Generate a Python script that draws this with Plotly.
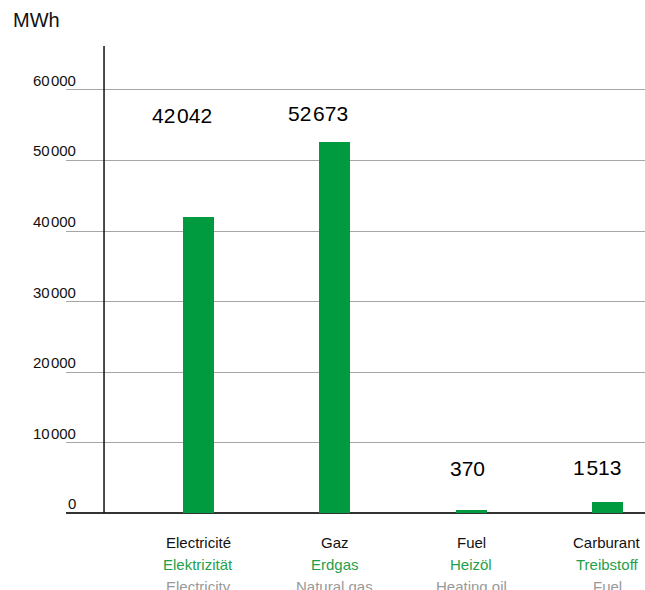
import plotly.graph_objects as go

categories_fr = ["Electricité", "Gaz", "Fuel", "Carburant"]
categories_de = ["Elektrizität", "Erdgas", "Heizöl", "Treibstoff"]
categories_en = ["Electricity", "Natural gas", "Heating oil", "Fuel"]
values = [42042, 52673, 370, 1513]
value_labels = ["42\u200a042", "52\u200a673", "370", "1\u200a513"]
label_y = [56400, 56700, 6300, 6400]
y_ticks = [0, 10000, 20000, 30000, 40000, 50000, 60000]
y_tick_labels = ["0", "10\u200a000", "20\u200a000", "30\u200a000", "40\u200a000", "50\u200a000", "60\u200a000"]

GREEN = "#009b3e"
FONT = "Liberation Sans, Arial, Helvetica, sans-serif"
xs = list(range(len(values)))
bar_w = 0.227

fig = go.Figure()
fig.add_trace(go.Bar(x=xs, y=values, width=bar_w, marker=dict(color=GREEN, line=dict(width=0)),
                     hoverinfo="skip"))

annotations = []
for i, (lab, yv) in enumerate(zip(value_labels, label_y)):
    annotations.append(dict(x=xs[i] + bar_w / 2, y=yv, xref="x", yref="y", text=lab,
                            showarrow=False, xanchor="right", yanchor="middle",
                            font=dict(size=21, color="#000", family=FONT)))
for i in range(len(values)):
    for txt, col, shift in [(categories_fr[i], "#111", -29), (categories_de[i], "#1f9f4a", -51),
                            (categories_en[i], "#999999", -73)]:
        annotations.append(dict(x=xs[i], y=0, xref="x", yref="y", text=txt, showarrow=False,
                                xanchor="center", yanchor="middle", yshift=shift,
                                font=dict(size=15, color=col, family=FONT)))
for t, tl in zip(y_ticks, y_tick_labels):
    annotations.append(dict(x=(78 - 66) / 579, y=t, xref="paper", yref="y", text=tl, showarrow=False,
                            xanchor="right", yanchor="bottom", yshift=-1,
                            font=dict(size=15, color="#111", family=FONT)))
annotations.append(dict(x=(11 - 66) / 579, y=1 + (46 - 20) / 467, xref="paper", yref="paper",
                        text="MWh", showarrow=False, xanchor="left", yanchor="middle",
                        font=dict(size=20, color="#111", family=FONT)))

fig.add_shape(type="line", x0=-0.693, x1=-0.693, y0=0, y1=66240, xref="x", yref="y",
              line=dict(color="#111", width=1.5))

fig.update_layout(
    width=645, height=590,
    margin=dict(l=66, r=0, t=46, b=77),
    paper_bgcolor="white", plot_bgcolor="white",
    showlegend=False,
    annotations=annotations,
    xaxis=dict(range=[-0.972, 3.276], showticklabels=False, showgrid=False, zeroline=False,
               showline=False, ticks=""),
    yaxis=dict(range=[0, 66240], tickvals=y_ticks, showticklabels=False, showgrid=True,
               gridcolor="#a6a6a6", gridwidth=1, zeroline=True, zerolinecolor="#333",
               zerolinewidth=1.5, showline=False, ticks=""),
    bargap=0,
)
fig.write_html("out.html")
